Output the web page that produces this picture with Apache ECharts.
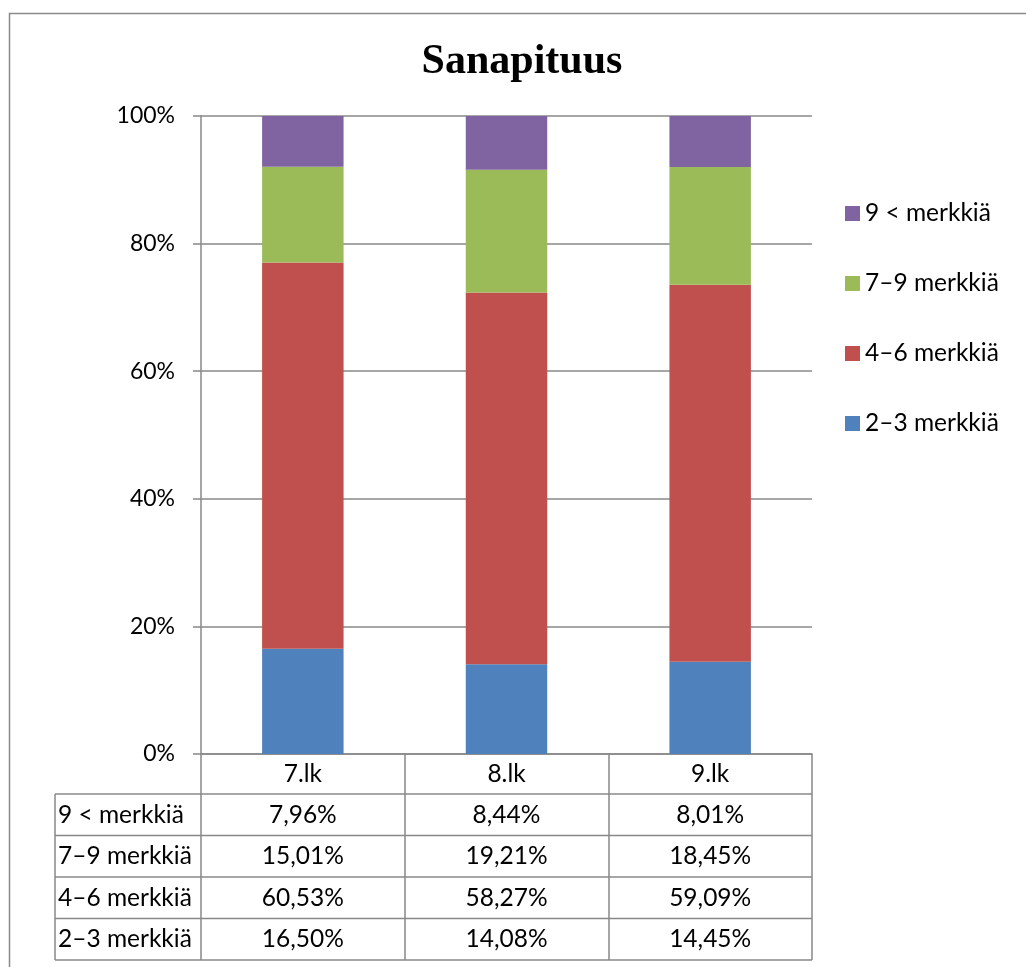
<!DOCTYPE html>
<html>
<head>
<meta charset="utf-8">
<script src="https://cdn.jsdelivr.net/npm/echarts@6/dist/echarts.min.js"></script>
<style>
  html, body { margin: 0; padding: 0; background: #fff; }
  #chart { width: 1026px; height: 967px; }
</style>
</head>
<body>
<div id="chart"></div>
<script>
// Word-length distribution per grade (share of words, %)
const categories = ['7.lk', '8.lk', '9.lk'];
const seriesNames = ['2–3 merkkiä', '4–6 merkkiä', '7–9 merkkiä', '9 < merkkiä'];
const len2to3 = [16.50, 14.08, 14.45];
const len4to6 = [60.53, 58.27, 59.09];
const len7to9 = [15.01, 19.21, 18.45];
const len9plus = [7.96, 8.44, 8.01];
const yTicks = [0, 20, 40, 60, 80, 100];

const seriesValues = [len2to3, len4to6, len7to9, len9plus];
const colors = ['#4F81BD', '#C0504D', '#9BBB59', '#8064A2'];
const gridColor = '#888888';
const font = 'Lato, "Open Sans", sans-serif';
const axisFs = 23;
const fs = 24.5;

// Plot area
const G = { left: 201, top: 116, right: 812, bottom: 754 };
// Data table below the plot: header row then one row per series (top to bottom: longest words first)
const headerH = 40;
const rowH = 41.5;
const tableLeft = 55;
const tableOrder = [3, 2, 1, 0];

const fmt = v => v.toFixed(2).replace('.', ',') + '%';

const chart = echarts.init(document.getElementById('chart'), null, { renderer: 'canvas' });

const graphics = [];
// outer frame
graphics.push({
  type: 'rect', silent: true,
  shape: { x: 9.5, y: 13.5, width: 1040, height: 990 },
  style: { fill: null, stroke: '#8a8a8a', lineWidth: 1.5 }
});
// table horizontal rules and left edge
for (let i = 0; i <= tableOrder.length; i++) {
  const y = G.bottom + headerH + i * rowH;
  graphics.push({
    type: 'line', silent: true,
    shape: { x1: tableLeft, y1: y, x2: G.right, y2: y },
    style: { stroke: gridColor, lineWidth: 1.5 }
  });
}
graphics.push({
  type: 'line', silent: true,
  shape: { x1: tableLeft, y1: G.bottom + headerH, x2: tableLeft, y2: G.bottom + headerH + tableOrder.length * rowH },
  style: { stroke: gridColor, lineWidth: 1.5 }
});
// row labels
tableOrder.forEach((si, r) => {
  graphics.push({
    type: 'text', silent: true,
    x: tableLeft + 3,
    y: G.bottom + headerH + r * rowH + rowH / 2,
    style: {
      text: seriesNames[si], fill: '#000', font: fs + 'px ' + font,
      align: 'left', verticalAlign: 'middle'
    }
  });
});

// Category labels carry the table columns: header, then the value of each series
const rich = {
  h: { fontFamily: font, fontSize: fs, color: '#000', lineHeight: headerH, align: 'center' },
  v: { fontFamily: font, fontSize: fs, color: '#000', lineHeight: rowH, align: 'center' }
};

const option = {
  animation: false,
  backgroundColor: '#fff',
  title: {
    text: 'Sanapituus',
    left: 517, top: 36, textAlign: 'center',
    textStyle: { fontFamily: '"Liberation Serif", "Times New Roman", serif', fontWeight: 'bold', fontSize: 42, color: '#000' }
  },
  legend: {
    orient: 'vertical',
    left: 840, top: 196,
    itemWidth: 15, itemHeight: 15, itemGap: 45,
    icon: 'rect',
    data: tableOrder.map(i => seriesNames[i]),
    textStyle: { fontFamily: font, fontSize: fs, color: '#000', padding: [0, 0, 0, 0] }
  },
  grid: {
    left: G.left, top: G.top,
    width: G.right - G.left, height: G.bottom - G.top,
    containLabel: false
  },
  xAxis: {
    type: 'category',
    data: categories,
    axisLine: { show: true, lineStyle: { color: gridColor, width: 1.5 } },
    axisTick: { show: true, length: headerH + tableOrder.length * rowH, lineStyle: { color: gridColor, width: 1.5 } },
    axisLabel: {
      margin: 0,
      verticalAlign: 'top',
      formatter: (val, idx) => {
        const lines = ['{h|' + val + '}'];
        tableOrder.forEach(si => lines.push('{v|' + fmt(seriesValues[si][idx]) + '}'));
        return lines.join('\n');
      },
      rich: rich
    }
  },
  yAxis: {
    type: 'value',
    min: yTicks[0], max: yTicks[yTicks.length - 1], interval: yTicks[1] - yTicks[0],
    axisLine: { show: true, lineStyle: { color: gridColor, width: 1.5 } },
    axisTick: { show: true, length: 8, lineStyle: { color: gridColor, width: 1.5 } },
    splitLine: { show: true, lineStyle: { color: gridColor, width: 1.5 } },
    axisLabel: {
      margin: 26,
      formatter: '{value}%',
      fontFamily: font, fontSize: axisFs, color: '#000'
    }
  },
  series: seriesValues.map((vals, i) => ({
    name: seriesNames[i],
    type: 'bar',
    stack: 'total',
    barWidth: '40%',
    data: vals,
    itemStyle: { color: colors[i] }
  })),
  graphic: graphics
};

chart.setOption(option);
</script>
</body>
</html>
